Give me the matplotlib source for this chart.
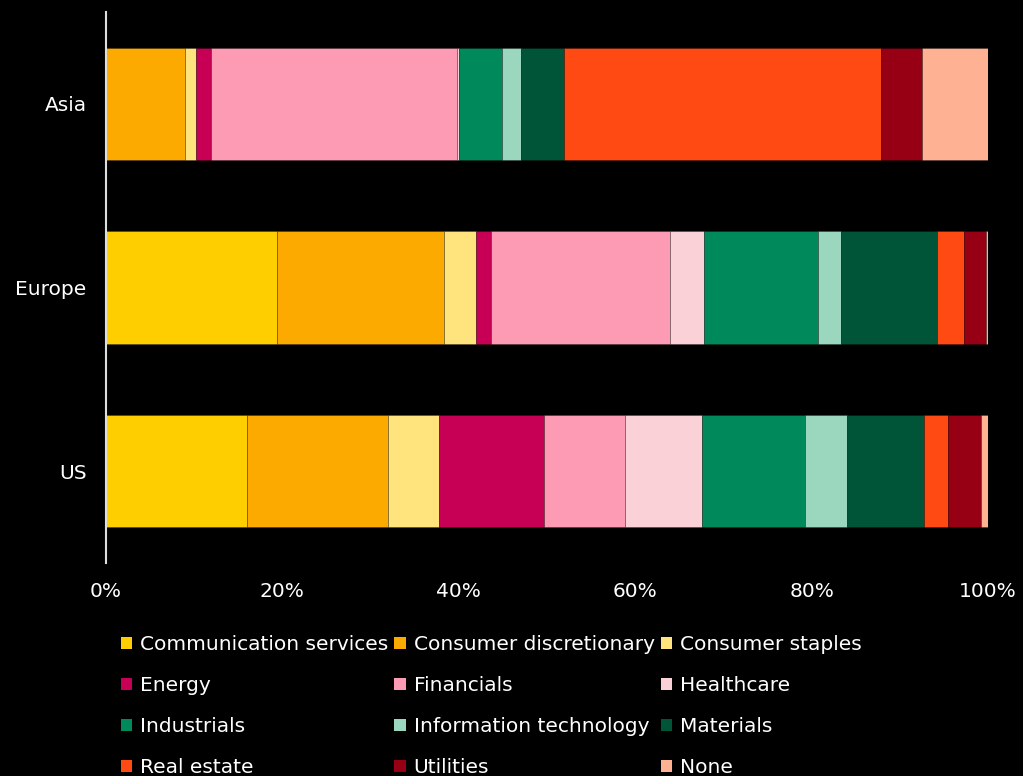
import matplotlib.pyplot as plt
from matplotlib.patches import Patch

# Regional sector weights (%), one list per sector, ordered US, Europe, Asia
regions = ['US', 'Europe', 'Asia']
sectors = ['Communication services', 'Consumer discretionary', 'Consumer staples',
           'Energy', 'Financials', 'Healthcare',
           'Industrials', 'Information technology', 'Materials',
           'Real estate', 'Utilities', 'None']
comm_services = [16.0, 19.4, 0.0]
cons_disc = [16.0, 18.9, 9.0]
cons_staples = [5.8, 3.6, 1.2]
energy = [11.9, 1.7, 1.7]
financials = [9.2, 20.3, 27.9]
healthcare = [8.7, 3.9, 0.2]
industrials = [11.6, 12.9, 4.9]
info_tech = [4.8, 2.6, 2.2]
materials = [8.7, 10.9, 4.8]
real_estate = [2.8, 3.1, 36.0]
utilities = [3.7, 2.5, 4.6]
none = [0.8, 0.2, 7.5]

series = [comm_services, cons_disc, cons_staples, energy, financials, healthcare,
          industrials, info_tech, materials, real_estate, utilities, none]
colors = ['#FFCE00', '#FCAA00', '#FFE47D', '#C70055', '#FE9BB4', '#F9D1D6',
          '#008A5C', '#9BD7BE', '#005438', '#FF4A14', '#970014', '#FFB193']

fs = 14.5

fig = plt.figure(figsize=(10.23, 7.76), dpi=100, facecolor='black')
ax = fig.add_axes([106 / 1023, 1 - 563 / 776, 882 / 1023, 551 / 776])
ax.set_facecolor('black')

left = [0.0] * len(regions)
for vals, col in zip(series, colors):
    ax.barh(range(len(regions)), vals, left=left, height=0.61, color=col,
            edgecolor=(0, 0, 0, 0.25), linewidth=0.6)
    left = [l + v for l, v in zip(left, vals)]

ax.set_xlim(0, 100)
ax.set_ylim(-0.5, 2.5)
ax.set_xticks(range(0, 101, 20))
ax.set_xticklabels([f'{t}%' for t in range(0, 101, 20)])
ax.set_yticks(range(len(regions)))
ax.set_yticklabels(regions)
ax.tick_params(axis='x', length=0, pad=14, labelsize=fs, colors='white')
ax.tick_params(axis='y', length=0, pad=14, labelsize=fs, colors='white')

for side in ['top', 'right', 'bottom']:
    ax.spines[side].set_visible(False)
ax.spines['left'].set_color('#DDDDDD')
ax.spines['left'].set_linewidth(1.5)

# legend laid out row by row across three columns
handles = [Patch(facecolor=c, edgecolor='none') for c in colors]
order = [i for col in range(3) for i in range(col, len(sectors), 3)]
fig.legend([handles[i] for i in order], [sectors[i] for i in order],
           ncol=3, loc='upper left', bbox_to_anchor=(121 / 1023, 1 - 635 / 776),
           frameon=False, fontsize=fs, labelcolor='white',
           handlelength=0.55, handleheight=0.55, handletextpad=0.4,
           columnspacing=0.3, labelspacing=1.1, borderpad=0, borderaxespad=0)

fig.savefig('out.png', dpi=100, facecolor='black')
